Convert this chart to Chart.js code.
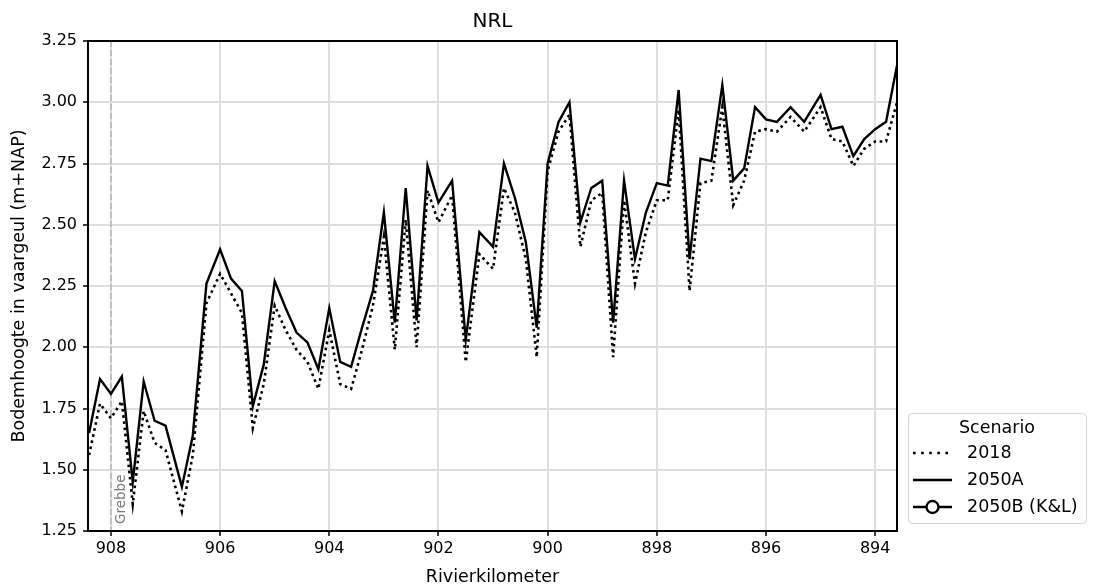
<!DOCTYPE html>
<html lang="nl">
<head>
<meta charset="utf-8">
<title>NRL</title>
<script src="https://cdn.jsdelivr.net/npm/chart.js@4.4.1/dist/chart.umd.min.js"></script>
<style>
    html, body { margin: 0; padding: 0; background: #fff; }
    #wrap { width: 1093px; height: 588px; }
</style>
</head>
<body>
<div id="wrap"><canvas id="nrlChart" width="1093" height="588"></canvas></div>
<script>
// ================================
// Data: bed level along the river axis
// ================================
const kilometers = [
    908.4, 908.2, 908.0, 907.8, 907.6, 907.4, 907.2, 907.0, 906.7, 906.5,
    906.25, 906.0, 905.8, 905.6, 905.4, 905.2, 905.0, 904.8, 904.6, 904.4,
    904.2, 904.0, 903.8, 903.6, 903.4, 903.2, 903.0, 902.8, 902.6, 902.4,
    902.2, 902.0, 901.75, 901.5, 901.25, 901.0, 900.8, 900.6, 900.4, 900.2,
    900.0, 899.8, 899.6, 899.4, 899.2, 899.0, 898.8, 898.6, 898.4, 898.2,
    898.0, 897.8, 897.6, 897.4, 897.2, 897.0, 896.8, 896.6, 896.4, 896.2,
    896.0, 895.8, 895.55, 895.3, 895.0, 894.8, 894.6, 894.4, 894.2, 894.0,
    893.8, 893.6
];

const bed2018 = [
    1.56, 1.77, 1.71, 1.78, 1.36, 1.74, 1.61, 1.58, 1.33, 1.56,
    2.18, 2.30, 2.22, 2.14, 1.67, 1.85, 2.17, 2.07, 1.99, 1.94,
    1.83, 2.07, 1.85, 1.83, 1.99, 2.17, 2.45, 1.99, 2.52, 2.00,
    2.64, 2.51, 2.62, 1.94, 2.38, 2.32, 2.65, 2.55, 2.36, 1.96,
    2.72, 2.88, 2.95, 2.41, 2.60, 2.63, 1.96, 2.60, 2.26, 2.47,
    2.60, 2.60, 2.97, 2.23, 2.67, 2.68, 2.98, 2.58, 2.68, 2.88,
    2.89, 2.88, 2.94, 2.88, 2.98, 2.85, 2.84, 2.74, 2.81, 2.84,
    2.84, 3.00
];

const bed2050A = [
    1.65, 1.87, 1.81, 1.88, 1.45, 1.86, 1.70, 1.68, 1.43, 1.64,
    2.26, 2.40, 2.28, 2.23, 1.76, 1.93, 2.27, 2.16, 2.06, 2.02,
    1.91, 2.16, 1.94, 1.92, 2.08, 2.23, 2.55, 2.10, 2.65, 2.11,
    2.74, 2.59, 2.68, 2.03, 2.47, 2.41, 2.75, 2.61, 2.43, 2.08,
    2.75, 2.92, 3.00, 2.51, 2.65, 2.68, 2.10, 2.68, 2.36, 2.55,
    2.67, 2.66, 3.05, 2.36, 2.77, 2.76, 3.07, 2.68, 2.73, 2.98,
    2.93, 2.92, 2.98, 2.92, 3.03, 2.89, 2.90, 2.78, 2.85, 2.89,
    2.92, 3.15
];

// 2050B has no values in this figure, it only shows up in the legend
const bed2050B = [];

const xTicks = [908, 906, 904, 902, 900, 898, 896, 894];
const yTicks = [1.25, 1.5, 1.75, 2.0, 2.25, 2.5, 2.75, 3.0, 3.25];
const xRange = { min: 893.6, max: 908.42 };
const yRange = { min: 1.25, max: 3.25 };

const grebbeKm = 908;
const grebbeLabel = "Grebbe";
const chartTitle = "NRL";
const legendTitle = "Scenario";

const FONT = "'DejaVu Sans', 'Liberation Sans', sans-serif";

function toPoints(values) {
    return values.map((v, i) => ({ x: kilometers[i], y: v }));
}

// ================================
// Plugins: frame, Grebbe marker, title, legend
// ================================
const grebbeMarker = {
    id: "grebbeMarker",
    beforeDatasetsDraw(chart) {
        const { ctx, chartArea, scales } = chart;
        const x = scales.x.getPixelForValue(grebbeKm);
        ctx.save();
        ctx.strokeStyle = "#b5b5b5";
        ctx.lineWidth = 1.5;
        ctx.setLineDash([6, 3]);
        ctx.beginPath();
        ctx.moveTo(x, chartArea.top);
        ctx.lineTo(x, chartArea.bottom);
        ctx.stroke();
        ctx.setLineDash([]);

        ctx.translate(x + 4, chartArea.bottom - 7);
        ctx.rotate(-Math.PI / 2);
        ctx.fillStyle = "#7a7a7a";
        ctx.font = "13.5px " + FONT;
        ctx.textAlign = "left";
        ctx.textBaseline = "top";
        ctx.fillText(grebbeLabel, 0, 0);
        ctx.restore();
    }
};

const frameAndTitle = {
    id: "frameAndTitle",
    afterDatasetsDraw(chart) {
        const { ctx, chartArea } = chart;
        ctx.save();
        ctx.strokeStyle = "#000";
        ctx.lineWidth = 2;
        ctx.strokeRect(chartArea.left, chartArea.top,
            chartArea.right - chartArea.left, chartArea.bottom - chartArea.top);

        ctx.fillStyle = "#000";
        ctx.font = "20px " + FONT;
        ctx.textAlign = "center";
        ctx.textBaseline = "middle";
        ctx.fillText(chartTitle, (chartArea.left + chartArea.right) / 2, 22);
        ctx.restore();
    }
};

const scenarioLegend = {
    id: "scenarioLegend",
    afterDraw(chart) {
        const { ctx } = chart;
        const box = { x: 908, y: 413, w: 178, h: 110 };
        ctx.save();
        ctx.fillStyle = "#fff";
        ctx.strokeStyle = "#d4d4d4";
        ctx.lineWidth = 1;
        ctx.beginPath();
        ctx.roundRect(box.x + 0.5, box.y + 0.5, box.w, box.h, 4);
        ctx.fill();
        ctx.stroke();

        ctx.fillStyle = "#000";
        ctx.font = "17.5px " + FONT;
        ctx.textBaseline = "middle";
        ctx.textAlign = "center";
        ctx.fillText(legendTitle, box.x + box.w / 2, box.y + 15);

        ctx.textAlign = "left";
        chart.data.datasets.forEach((ds, i) => {
            const y = box.y + 40 + i * 27;
            const x0 = box.x + 5, x1 = box.x + 44;
            ctx.strokeStyle = ds.borderColor;
            ctx.lineWidth = ds.borderWidth;
            ctx.setLineDash(ds.borderDash ? [2.6, 5.5] : []);
            ctx.beginPath();
            ctx.moveTo(x0, y);
            ctx.lineTo(x1, y);
            ctx.stroke();
            ctx.setLineDash([]);
            if (ds.legendMarker) {
                ctx.fillStyle = "#fff";
                ctx.beginPath();
                ctx.arc((x0 + x1) / 2, y, 6, 0, Math.PI * 2);
                ctx.fill();
                ctx.stroke();
            }
            ctx.fillStyle = "#000";
            ctx.fillText(ds.label, box.x + 59, y);
        });
        ctx.restore();
    }
};

// ================================
// Chart
// ================================
Chart.defaults.color = "#000";
Chart.defaults.font.family = FONT;

const ctx = document.getElementById("nrlChart");
new Chart(ctx, {
    type: "line",
    data: {
        datasets: [
            {
                label: "2018",
                data: toPoints(bed2018),
                borderColor: "#000",
                borderWidth: 2.6,
                borderDash: [2.6, 3.6],
                pointRadius: 0,
                tension: 0
            },
            {
                label: "2050A",
                data: toPoints(bed2050A),
                borderColor: "#000",
                borderWidth: 2.4,
                pointRadius: 0,
                tension: 0
            },
            {
                label: "2050B (K&L)",
                data: toPoints(bed2050B),
                borderColor: "#000",
                borderWidth: 2.4,
                pointRadius: 0,
                legendMarker: true
            }
        ]
    },
    options: {
        responsive: false,
        animation: false,
        devicePixelRatio: 1,
        layout: { padding: { top: 41, right: 196, left: 0, bottom: 0 } },
        plugins: {
            legend: { display: false },
            title: { display: false },
            tooltip: { enabled: false }
        },
        scales: {
            x: {
                type: "linear",
                reverse: true,
                min: xRange.min,
                max: xRange.max,
                afterBuildTicks: (scale) => { scale.ticks = xTicks.map(v => ({ value: v })); },
                afterFit: (scale) => { scale.height = 57; },
                border: { display: false },
                grid: { color: "#dedede", lineWidth: 2, tickColor: "#000", tickLength: 5, tickWidth: 1.5 },
                ticks: { font: { size: 16 }, padding: 3, maxRotation: 0, callback: v => String(v) },
                title: {
                    display: true,
                    text: "Rivierkilometer",
                    font: { size: 17.5 },
                    padding: { top: 0, bottom: 0 }
                }
            },
            y: {
                min: yRange.min,
                max: yRange.max,
                afterBuildTicks: (scale) => { scale.ticks = yTicks.map(v => ({ value: v })); },
                afterFit: (scale) => { scale.width = 88; },
                border: { display: false },
                grid: { color: "#dedede", lineWidth: 2, tickColor: "#000", tickLength: 5, tickWidth: 1.5 },
                ticks: { font: { size: 16 }, padding: 6, callback: v => v.toFixed(2) },
                title: {
                    display: true,
                    text: "Bodemhoogte in vaargeul (m+NAP)",
                    font: { size: 17.5 },
                    padding: { top: 9, bottom: 2 }
                }
            }
        }
    },
    plugins: [grebbeMarker, frameAndTitle, scenarioLegend]
});
</script>
</body>
</html>
